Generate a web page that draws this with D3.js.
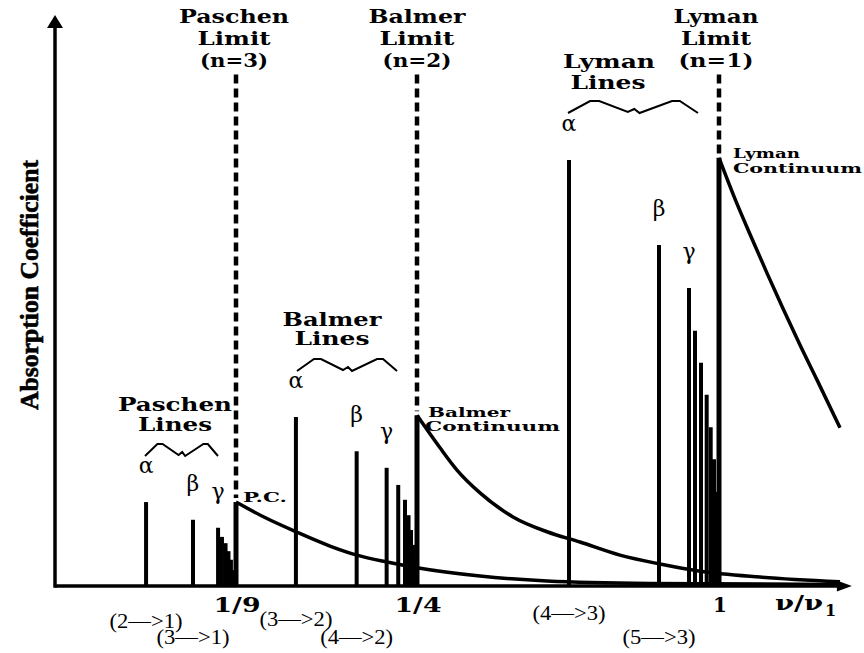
<!DOCTYPE html>
<html><head><meta charset="utf-8">
<script src="https://cdn.jsdelivr.net/npm/d3@7"></script>
<style>body{margin:0;background:#fff}svg{display:block}</style>
</head><body>
<svg id="c" width="864" height="653"></svg>
<script>
// ---------- data (x in ν/ν1 as drawn on the schematic axis, heights in arbitrary units) ----------
const tickValues = [1/9, 1/4, 1];
const tickLabels = ["1/9", "1/4", "1"];
const limitValues = [1/9, 1/4, 1];
const limitHeights = [14.7, 29.9, 75.0];

const paschenX = [0.0559, 0.0847, 0.1001, 0.1025, 0.1047, 0.1065, 0.1080, 0.1093, 0.1105];
const paschenH = [14.7, 11.6, 10.2, 8.6, 7.5, 6.1, 4.6, 2.8, 1.4];
const balmerX  = [0.1571, 0.2037, 0.2267, 0.2356, 0.2408, 0.2435, 0.2454, 0.2469, 0.2485];
const balmerH  = [29.6, 23.6, 20.7, 17.7, 15.1, 12.4, 9.8, 7.2, 4.6];
const lymanX   = [0.6275, 0.851, 0.9255, 0.9404, 0.9553, 0.9694, 0.9794, 0.9876, 0.9943];
const lymanH   = [74.6, 59.7, 52.2, 44.7, 39.1, 33.5, 27.8, 22.2, 16.5];

const greek = ["α", "β", "γ"];
const transitionLabels = [["(2—>1)", "(3—>1)"], ["(3—>2)", "(4—>2)"], ["(4—>3)", "(5—>3)"]];

const paschenContX = [0.1111, 0.1341, 0.1571, 0.1832, 0.2040, 0.2270, 0.2500, 0.4065, 0.5728, 0.8286, 1.3005];
const paschenContH = [14.7, 11.9, 9.5, 7.0, 5.4, 4.2, 3.2, 1.75, 0.88, 0.44, 0.26];
const balmerContX  = [0.25, 0.3071, 0.3493, 0.4065, 0.4884, 0.5728, 0.6548, 0.7541, 0.8534, 0.9528, 1.1018, 1.3005];
const balmerContH  = [29.9, 24.2, 20.3, 16.3, 12.1, 9.5, 7.7, 5.4, 3.85, 2.6, 1.58, 0.75];
const lymanContX   = [1.0, 1.0397, 1.0770, 1.1192, 1.1589, 1.2012, 1.2434, 1.3005];
const lymanContH   = [75.0, 67.8, 61.6, 54.8, 48.6, 42.2, 36.1, 27.7];

const xAxisMax = 1.33;
const yAxisMax = 100;
const dashTop = 89.6;

// ---------- scales ----------
const svg = d3.select("#c");
const x = d3.scaleLinear().domain([0, 1/9, 1/4, 1]).range([55, 236, 417, 719]);
const y = d3.scaleLinear().domain([0, yAxisMax]).range([586, 15]);

const boldSerif = "'DejaVu Serif', serif";

// ---------- continua ----------
const line = d3.line().x(d => x(d[0])).y(d => y(d[1])).curve(d3.curveMonotoneX);
[[paschenContX, paschenContH], [balmerContX, balmerContH], [lymanContX, lymanContH]].forEach(([xs, hs]) => {
  svg.append("path").attr("d", line(xs.map((v, i) => [v, hs[i]])))
    .attr("fill", "none").attr("stroke", "#000").attr("stroke-width", 3.5);
});

// ---------- spectral lines ----------
const series = [[paschenX, paschenH], [balmerX, balmerH], [lymanX, lymanH]];
series.forEach(([xs, hs], si) => {
  const g = svg.append("g");
  g.selectAll("line").data(xs.map((v, i) => [v, hs[i]])).join("line")
    .attr("x1", d => x(d[0])).attr("x2", d => x(d[0]))
    .attr("y1", y(0)).attr("y2", d => y(d[1]))
    .attr("stroke", "#000").attr("stroke-width", 4);
  // greek labels
  g.selectAll("text.gr").data(greek).join("text").attr("class", "gr")
    .attr("x", (d, i) => x(xs[i])).attr("y", (d, i) => y(hs[i]) - 29)
    .attr("text-anchor", "middle").attr("font-family", "'DejaVu Serif', serif")
    .attr("font-size", 22).text(d => d);
  // transition labels
  const tb = [[628, 644], [626, 644], [620, 644]][si];
  g.selectAll("text.tr").data(transitionLabels[si]).join("text").attr("class", "tr")
    .attr("x", (d, i) => x(xs[i])).attr("y", (d, i) => tb[i])
    .attr("text-anchor", "middle").attr("font-family", "'Liberation Serif', serif")
    .attr("font-size", 20).attr("textLength", 73).attr("lengthAdjust", "spacingAndGlyphs").text(d => d);
});

// ---------- limits (edges + dashed) ----------
limitValues.forEach((v, i) => {
  svg.append("line").attr("x1", x(v)).attr("x2", x(v)).attr("y1", y(0)).attr("y2", y(limitHeights[i]))
    .attr("stroke", "#000").attr("stroke-width", 5);
  svg.append("line").attr("x1", x(v)).attr("x2", x(v)).attr("y1", y(dashTop)).attr("y2", y(limitHeights[i]) - 4)
    .attr("stroke", "#000").attr("stroke-width", 4.5).attr("stroke-dasharray", "9,5");
});

// ---------- text helpers ----------
function label(tx, ty, s, size, w, anchor) {
  const t = svg.append("text").attr("x", tx).attr("y", ty).attr("font-family", boldSerif)
    .attr("font-weight", "bold").attr("font-size", size).attr("text-anchor", anchor || "middle").text(s);
  if (w) t.attr("textLength", w).attr("lengthAdjust", "spacingAndGlyphs");
  return t;
}

// top limit labels
const topLines = [["Paschen", "Limit", "(n=3)"], ["Balmer", "Limit", "(n=2)"], ["Lyman", "Limit", "(n=1)"]];
const topWidths = [[110, 73, 68], [97, 75, 69], [85, 70, 75]];
const topDx = [-2, 0, -3];
topLines.forEach((ls, i) => ls.forEach((s, j) => label(x(limitValues[i]) + topDx[i], [23, 45, 67][j], s, 18, topWidths[i][j])));

// group labels
label(175, 411, "Paschen", 18, 114); label(175, 431, "Lines", 18, 74);
label(332, 326, "Balmer", 18, 99);  label(332, 345, "Lines", 18, 75);
label(609, 68, "Lyman", 18, 92);    label(608, 89, "Lines", 18, 75);

// continuum labels
label(733, 158, "Lyman", 13, 67, "start");  label(733, 173, "Continuum", 13, 129, "start");
label(428, 417, "Balmer", 13, 82, "start"); label(425, 431, "Continuum", 13, 135, "start");
label(243, 502, "P.C.", 13, 44, "start");

// braces
function brace(x0, x1, yb) {
  const w = x1 - x0, h = 12;
  const pts = [[0, 0], [0.17, h], [0.24, h], [0.46, 1], [0.51, 4], [0.55, 0], [0.80, h], [0.86, h], [1, 0]]
    .map(p => [x0 + p[0] * w, yb - p[1]]);
  svg.append("path").attr("d", d3.line()(pts)).attr("fill", "none").attr("stroke", "#000").attr("stroke-width", 2);
}
brace(145, 218, 456);
brace(297, 397, 371);
brace(568, 698, 113);

// ---------- axes ----------
svg.append("line").attr("x1", x(0)).attr("x2", x(xAxisMax) - 6).attr("y1", y(0)).attr("y2", y(0))
  .attr("stroke", "#000").attr("stroke-width", 3.5);
svg.append("path").attr("d", `M${x(xAxisMax)},${y(0)} L${x(xAxisMax) - 15},${y(0) - 5.5} L${x(xAxisMax) - 15},${y(0) + 5.5} Z`);
svg.append("line").attr("x1", x(0)).attr("x2", x(0)).attr("y1", y(0) + 1.75).attr("y2", y(yAxisMax) + 8)
  .attr("stroke", "#000").attr("stroke-width", 3.5);
svg.append("path").attr("d", `M${x(0)},${y(yAxisMax)} L${x(0) - 8},${y(yAxisMax) + 13} L${x(0) + 8},${y(yAxisMax) + 13} Z`);

// tick labels
svg.selectAll("text.tick").data(tickValues).join("text").attr("class", "tick")
  .attr("x", d => x(d) + 1).attr("y", 612).attr("text-anchor", "middle")
  .attr("font-family", boldSerif).attr("font-weight", "bold").attr("font-size", 20)
  .each(function (d, i) {
    d3.select(this).text(tickLabels[i]);
    if (tickLabels[i].length > 1) d3.select(this).attr("textLength", 47).attr("lengthAdjust", "spacingAndGlyphs");
  });
label(775, 610, "ν/ν", 20, 48, "start");
label(825, 616, "1", 16, null, "start");

// y label
svg.append("text").attr("transform", "translate(38,285) rotate(-90)")
  .attr("text-anchor", "middle").attr("font-family", "'Liberation Serif', serif")
  .attr("font-weight", "bold").attr("font-size", 26).attr("stroke", "#000").attr("stroke-width", 0.6)
  .attr("textLength", 250).attr("lengthAdjust", "spacingAndGlyphs").text("Absorption Coefficient");
</script>
</body></html>
